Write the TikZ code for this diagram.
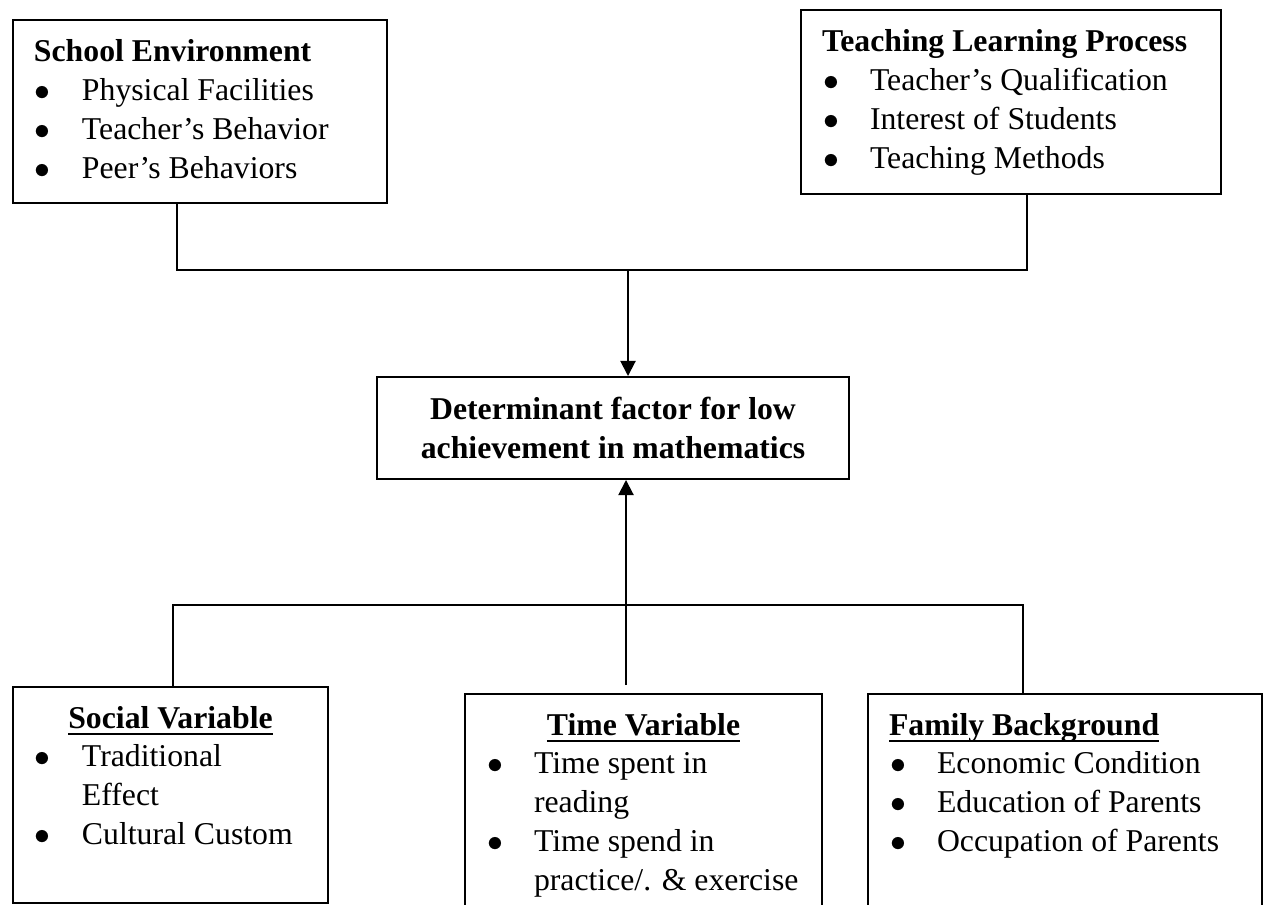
\documentclass[tikz,border=0pt]{standalone}
\usepackage{fontspec}
\setmainfont{Liberation Serif}
\usetikzlibrary{arrows.meta}
\newlength\px
\setlength\px{0.378pt}
% text inside the boxes
\newcommand{\boxbody}[3]{\parbox[c][#2\px][t]{#1\px}{\leftskip=21\px #3}}
\newcommand{\ulb}[1]{\setbox0\hbox{#1}\rlap{\rule[-2.6pt]{\wd0}{0.8pt}}\box0}
\newcommand{\hd}[1]{\rule{0pt}{42\px}\textbf{#1}\par}
\newcommand{\uhd}[1]{\rule{0pt}{41\px}\ulb{\textbf{#1}}\par}
\newcommand{\chd}[1]{{\centering\rule{0pt}{41\px}\ulb{\textbf{#1}}\par}}
\newcommand{\itm}[1]{\par\hangindent=48\px\hangafter=1
  \makebox[48\px][l]{\hspace{1\px}$\bullet$}#1\par}

\begin{document}
\begin{tikzpicture}[x=0.378pt,y=-0.378pt,
  box/.style={draw,line width=0.75pt,inner sep=0pt,anchor=north west,
    font=\fontsize{12}{14.7}\selectfont},
  link/.style={line width=0.5pt},
  arr/.style={line width=0.75pt,-{Triangle[length=5.7pt,width=5.7pt]}}]
\useasboundingbox (0,0) rectangle (1267,904);
\path (12,19) node(se)[box]{\boxbody{374}{183}{\hd{School Environment}
  \itm{Physical Facilities}\itm{Teacher's Behavior}\itm{Peer's Behaviors}}}
(800,9) node(tl)[box]{\boxbody{420}{184}{\hd{Teaching Learning Process}
  \itm{Teacher's Qualification}\itm{Interest of Students}\itm{Teaching Methods}}}
(376,376) node(dt)[box]{\parbox[c][102\px][c]{472\px}{\centering\bfseries
  Determinant factor for low\\ achievement in mathematics}}
(12,686) node(sv)[box]{\boxbody{315}{216}{\chd{Social Variable}
  \itm{Traditional\newline Effect}\itm{Cultural Custom}}}
(464,693) node(tv)[box]{\boxbody{357}{240}{\chd{Time Variable}
  \itm{Time spent in\newline reading}\itm{Time spend in\newline practice/. \& exercise}}}
(867,693) node(fb)[box]{\boxbody{394}{240}{\uhd{Family Background}
  \itm{Economic Condition}\itm{Education of Parents}\itm{Occupation of Parents}}};
% junctions
\coordinate (jl) at (177,270);
\coordinate (jr) at (1027,270);
\coordinate (jt) at (628,270);
\coordinate (kl) at (173,605);
\coordinate (kr) at (1023,605);
\coordinate (km) at (626,685);
\draw[link](se.south -| jl)--(jl)--(jr)--(tl.south -| jr);
\draw[arr](jt)--(jt |- dt.north);
\draw[link](sv.north -| kl)--(kl)--(kr)--(fb.north -| kr);
\draw[arr](km)--(km |- dt.south);
\end{tikzpicture}
\end{document}
